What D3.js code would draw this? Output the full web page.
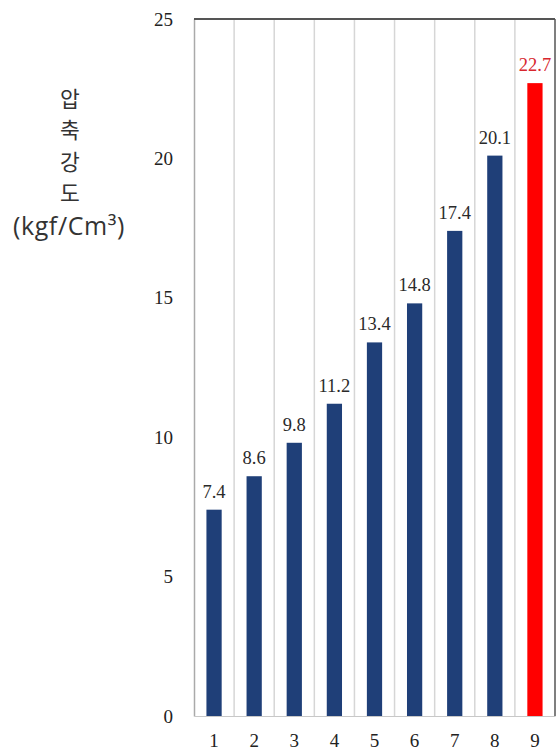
<!DOCTYPE html>
<html><head><meta charset="utf-8">
<script src="https://cdn.jsdelivr.net/npm/d3@7"></script>
<style>body{margin:0;background:#fff}</style>
</head><body>
<script>
const categories = ["1","2","3","4","5","6","7","8","9"];
const values = [7.4, 8.6, 9.8, 11.2, 13.4, 14.8, 17.4, 20.1, 22.7];
const yTicks = [0, 5, 10, 15, 20, 25];
const titleChars = ["압","축","강","도"];
const unitLabel = "(kgf/Cm³)";

const W = 558, H = 753;
const m = {left:194, right:3, top:19, bottom:37};
const svg = d3.select("body").append("svg").attr("width", W).attr("height", H);

const x = d3.scaleBand().domain(categories).range([m.left, W - m.right]).paddingInner(0.62).paddingOuter(0.31);
const xg = d3.scaleBand().domain(categories).range([m.left, W - m.right]);
const y = d3.scaleLinear().domain([0, 25]).range([H - m.bottom, m.top]);

svg.append("g").selectAll("line").data(categories.slice(1)).join("line")
  .attr("x1", d => xg(d)).attr("x2", d => xg(d))
  .attr("y1", y(25)).attr("y2", y(0))
  .attr("stroke", "#d6d6d6").attr("stroke-width", 1.5);

svg.append("g").selectAll("rect").data(values).join("rect")
  .attr("x", (d,i) => x(categories[i]))
  .attr("width", x.bandwidth())
  .attr("y", d => y(d))
  .attr("height", d => y(0) - y(d))
  .attr("fill", (d,i) => i === values.length - 1 ? "#ff0000" : "#1f3f78");

const serif = "Liberation Serif, Times New Roman, serif";
svg.append("g").selectAll("text").data(values).join("text")
  .attr("x", (d,i) => x(categories[i]) + x.bandwidth()/2)
  .attr("y", d => y(d) - 12)
  .attr("text-anchor", "middle")
  .attr("font-family", serif)
  .attr("font-size", 18.5)
  .attr("fill", (d,i) => i === values.length - 1 ? "#d8262e" : "#2a2a2a")
  .text(d => d.toFixed(1));

const yAxis = d3.axisLeft(y).tickValues(yTicks).tickSize(0).tickPadding(21);
const gy = svg.append("g").attr("transform", `translate(${m.left},0)`).call(yAxis);
gy.select(".domain").attr("stroke", "#aaaaaa").attr("stroke-width", 1.5);
gy.selectAll("text").attr("font-family", serif).attr("font-size", 19).attr("fill", "#222");

const xAxis = d3.axisBottom(xg).tickSize(0).tickPadding(18);
const gx = svg.append("g").attr("transform", `translate(0,${y(0)})`).call(xAxis);
gx.select(".domain").attr("stroke", "#c8c8c8").attr("stroke-width", 1);
gx.selectAll("text").attr("font-family", serif).attr("font-size", 19).attr("fill", "#222");

svg.append("line").attr("x1", m.left).attr("x2", W - m.right).attr("y1", y(25)).attr("y2", y(25))
  .attr("stroke", "#555").attr("stroke-width", 2);
svg.append("line").attr("x1", W - m.right).attr("x2", W - m.right).attr("y1", y(25)).attr("y2", y(0))
  .attr("stroke", "#555").attr("stroke-width", 1.5);

const tg = svg.append("g").attr("font-family", "Noto Sans CJK KR, sans-serif").attr("fill", "#333");
tg.selectAll("text.c").data(titleChars).join("text").attr("class","c")
  .attr("x", 70).attr("y", (d,i) => 97 + i*31.5)
  .attr("text-anchor", "middle").attr("dominant-baseline", "central")
  .attr("font-size", 21.5).text(d => d);
tg.append("text").attr("x", 69).attr("y", 225).attr("text-anchor", "middle")
  .attr("dominant-baseline", "central")
  .attr("font-family", "Open Sans, Noto Sans, sans-serif")
  .attr("font-size", 25).attr("letter-spacing", 0.6).text(unitLabel);
</script>
</body></html>
